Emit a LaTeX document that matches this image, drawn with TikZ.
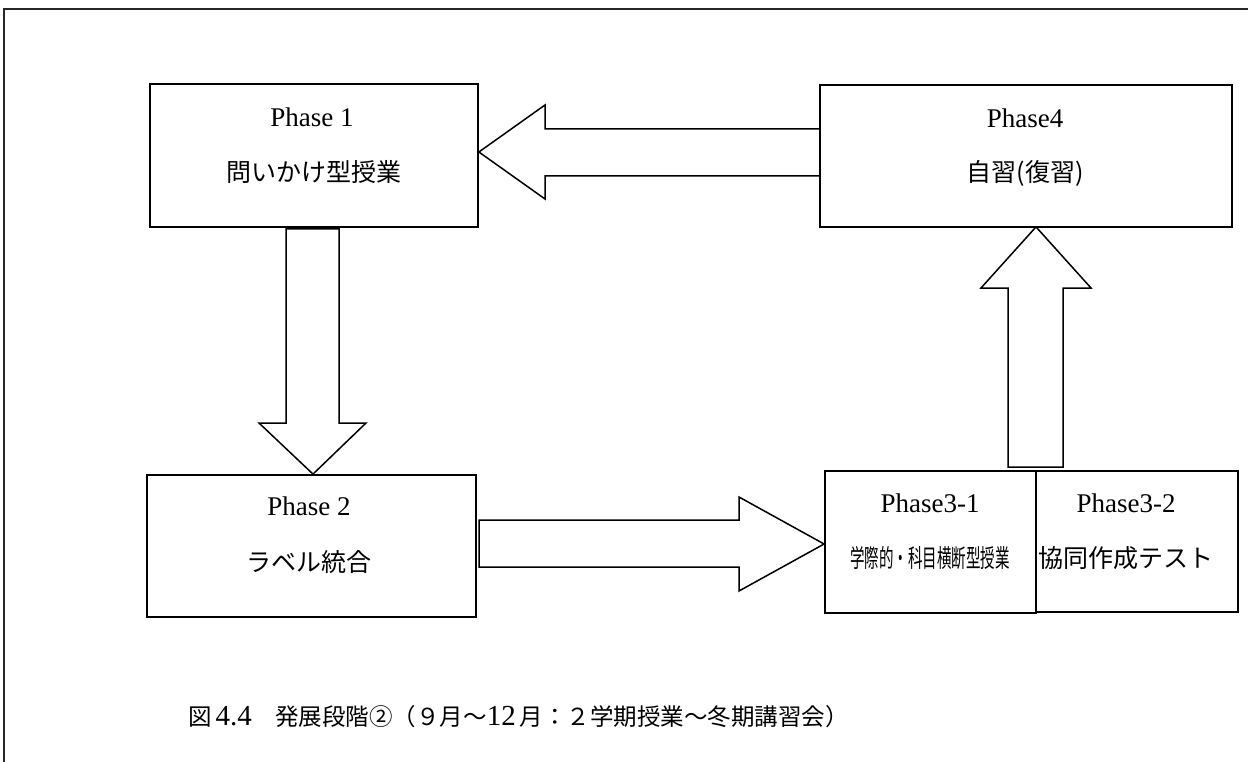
\documentclass[tikz,border=0pt]{standalone}
\usepackage{graphicx}
\usepackage{fontspec}
\setmainfont{Liberation Serif}
\newfontfamily\cjk{Noto Sans CJK JP}
\newcommand{\capnum}[1]{{\fontsize{29}{30}\selectfont #1}}
\begin{document}
\begin{tikzpicture}[x=1pt,y=-1pt,
  box/.style={draw=black, line width=1.8pt, fill=white, inner sep=0pt},
  blockarrow/.style={draw=black, line width=1.5pt, fill=white, line join=miter},
  lat/.style={font=\fontsize{27}{32}\selectfont, inner sep=0pt},
  jp/.style={font=\fontsize{25}{30}\selectfont\cjk, inner sep=0pt}]
\useasboundingbox (0,0) rectangle (1248,762);
\fill[white] (0,0) rectangle (1248,762);
% outer frame (top and left edges visible)
\draw[line width=1.6pt, black!85] (4,762) -- (4,9) -- (1248,9);

% boxes
\node[box, minimum width=328pt, minimum height=143pt] (p1) at (314,155.5) {};
\node[box, minimum width=410pt, minimum height=140pt] (p4) at (1026,156) {};
\node[box, minimum width=329pt, minimum height=142pt] (p2) at (311.5,546) {};
\node[box, minimum width=211pt, minimum height=142pt] (p31) at (930.5,542) {};
\node[box, minimum width=202pt, minimum height=141pt] (p32) at (1137,541.5) {};

% block arrows
% Phase4 -> Phase1 (leftward)
\draw[blockarrow] (p4.west |- 0,129) -- (545,129) -- (545,105) -- (p1.east |- 0,152)
  -- (545,199) -- (545,176) -- (p4.west |- 0,176) -- cycle;
% Phase1 -> Phase2 (downward)
\draw[blockarrow] (286,229) -- (339,229) -- (339,423) -- (366,423) -- (p2.north -| 313,0)
  -- (259,423) -- (286,423) -- cycle;
% Phase2 -> Phase3-1 (rightward)
\draw[blockarrow] (479,520) -- (739,520) -- (739,497) -- (p31.west |- 0,544)
  -- (739,591) -- (739,567) -- (479,567) -- cycle;
% Phase3 -> Phase4 (upward)
\draw[blockarrow] (1008,467) -- (1008,288) -- (981,288) -- (p4.south -| 1036,0)
  -- (1091,288) -- (1063,288) -- (1063,467) -- cycle;
\draw[box] (p4.south west) rectangle (p4.north east);

% texts
\node[lat] (t1a) at (312,117) {Phase 1};
\node[jp]  (t1b) at (314,172) {問いかけ型授業};
\node[lat] (t4a) at (1025,118) {Phase4};
\node[jp]  (t4b) at (1025,173) {自習(復習)};
\node[lat] (t2a) at (309,506) {Phase 2};
\node[jp]  (t2b) at (309,562) {ラベル統合};
\node[lat] (t31a) at (930,503) {Phase3-1};
\node[jp]  (t31b) at (930,558) {\scalebox{0.58}[1]{学際的・科目横断型授業}};
\node[lat] (t32a) at (1126,503) {Phase3-2};
\node[jp]  (t32b) at (1126,558) {協同作成テスト};

% caption
\node[anchor=west, inner sep=0pt, font=\fontsize{23.5}{28}\selectfont] (cap) at (188,717)
  {{\cjk 図}\,\capnum{4.4}{\cjk 　発展段階②（９月〜}\capnum{12}\,{\cjk 月：２学期授業〜冬期講習会）}};
\end{tikzpicture}
\end{document}
